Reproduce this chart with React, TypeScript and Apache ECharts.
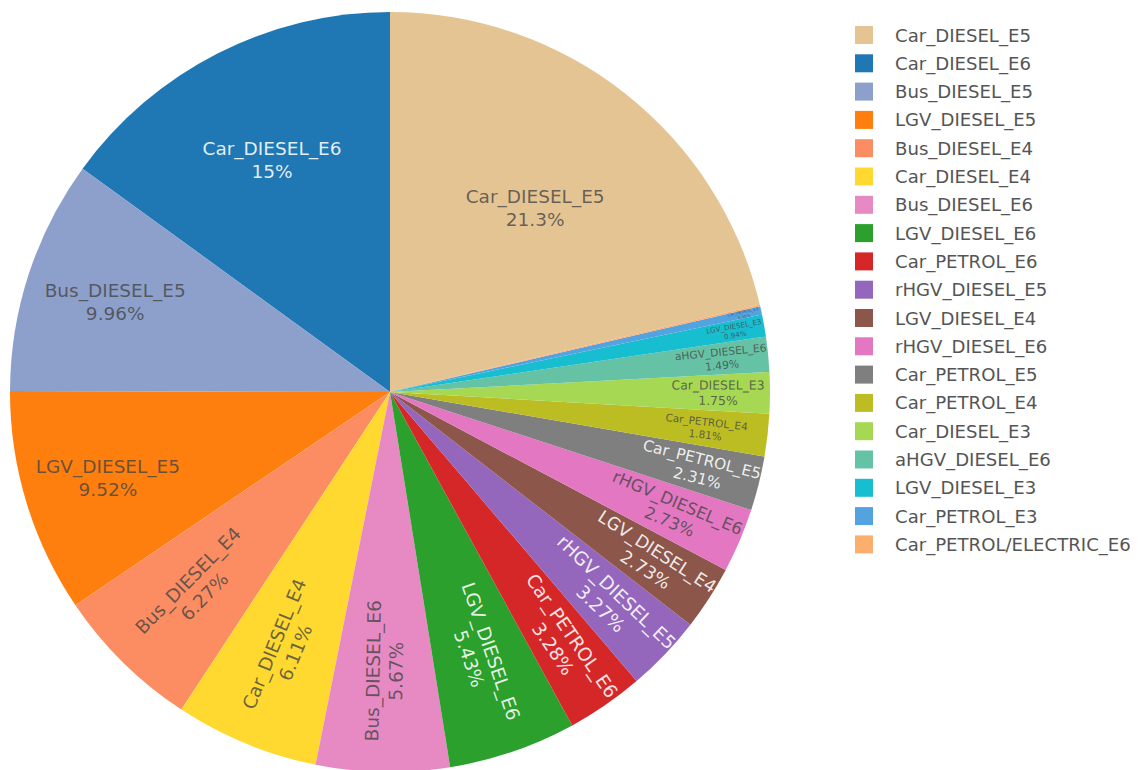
import React, { useEffect, useRef } from "react";
import * as echarts from "echarts";

const categories = [
  "Car_DIESEL_E5",
  "Car_DIESEL_E6",
  "Bus_DIESEL_E5",
  "LGV_DIESEL_E5",
  "Bus_DIESEL_E4",
  "Car_DIESEL_E4",
  "Bus_DIESEL_E6",
  "LGV_DIESEL_E6",
  "Car_PETROL_E6",
  "rHGV_DIESEL_E5",
  "LGV_DIESEL_E4",
  "rHGV_DIESEL_E6",
  "Car_PETROL_E5",
  "Car_PETROL_E4",
  "Car_DIESEL_E3",
  "aHGV_DIESEL_E6",
  "LGV_DIESEL_E3",
  "Car_PETROL_E3",
  "Car_PETROL/ELECTRIC_E6",
];

const shares = [
  21.3, 15, 9.96, 9.52, 6.27, 6.11, 5.67, 5.43, 3.28, 3.27, 2.73, 2.73, 2.31,
  1.81, 1.75, 1.49, 0.94, 0.35, 0.08,
];

const colors = [
  "#e5c494",
  "#1f77b4",
  "#8da0cb",
  "#ff7f0e",
  "#fc8d62",
  "#ffd92f",
  "#e78ac3",
  "#2ca02c",
  "#d62728",
  "#9467bd",
  "#8c564b",
  "#e377c2",
  "#7f7f7f",
  "#bcbd22",
  "#a6d854",
  "#66c2a5",
  "#17becf",
  "#52a3e0",
  "#fcae6e",
];

// label styling (positions along the slice bisector, sizes, contrast)
const labelRadius = [234, 260, 289, 295, 276, 277, 279, 278, 304, 302, 311, 308, 319, 318, 328, 333, 350, 362, 372];
const labelFont = [18.5, 18.5, 18.5, 18.5, 18.5, 18.5, 18.5, 18.5, 18.5, 18.5, 17.5, 16.6, 15.4, 10.5, 12.4, 10.7, 7.2, 4, 0];
const lightText = [false, true, false, false, false, false, false, true, true, true, true, false, true, false, false, false, false, false, false];
const horizontalLabel = [true, true, true, true, false, false, false, false, false, false, false, false, false, false, false, false, false, false, false];

const FONT = "'DejaVu Sans', Verdana, sans-serif";
const CX = 390;
const CY = 392;
const R = 380;

const fmt = (v: number) => String(Number(v.toPrecision(3)));

export default function App() {
  const ref = useRef<HTMLDivElement>(null);

  useEffect(() => {
    if (!ref.current) return;
    const chart = echarts.init(ref.current, null, { renderer: "svg" });
    const total = shares.reduce((a, b) => a + b, 0);
    const startAngle = 90 - (360 * shares[0]) / total;

    const mids: number[] = [];
    let cum = 0;
    shares.forEach((v) => {
      const a0 = startAngle + (360 * cum) / total;
      cum += v;
      const a1 = startAngle + (360 * cum) / total;
      mids.push((a0 + a1) / 2);
    });

    const data = categories.map((name, i) => ({
      name,
      value: shares[i],
      itemStyle: { color: colors[i] },
      label: {
        show: labelFont[i] > 0,
        rotate: horizontalLabel[i] ? 0 : "radial",
        fontSize: labelFont[i] || 1,
        lineHeight: (labelFont[i] || 1) * 1.24,
        color: lightText[i] ? "rgba(255,255,255,0.88)" : "rgba(68,68,68,0.78)",
      },
    }));

    chart.setOption({
      animation: false,
      backgroundColor: "#ffffff",
      legend: {
        orient: "vertical",
        left: 855,
        top: 26,
        padding: 0,
        itemWidth: 18,
        itemHeight: 18,
        itemGap: 10.3,
        icon: "rect",
        selectedMode: false,
        data: categories,
        textStyle: {
          fontFamily: FONT,
          fontSize: 18.1,
          lineHeight: 18,
          color: "#555555",
          padding: [0, 0, 0, 17],
        },
      },
      series: [
        {
          type: "pie",
          center: [CX, CY],
          radius: [0, R],
          startAngle,
          clockwise: false,
          minAngle: 0,
          avoidLabelOverlap: false,
          itemStyle: { borderWidth: 0 },
          label: {
            position: "inside",
            fontFamily: FONT,
            align: "center",
            verticalAlign: "middle",
            formatter: (p: any) => `${p.name}\n${fmt(p.value)}%`,
          },
          labelLine: { show: false },
          emphasis: { disabled: true },
          labelLayout: (params: any) => {
            const i = params.dataIndex;
            const a = (mids[i] * Math.PI) / 180;
            return {
              x: CX + labelRadius[i] * Math.cos(a),
              y: CY - labelRadius[i] * Math.sin(a),
            };
          },
          data,
        },
      ],
    });

    return () => chart.dispose();
  }, []);

  return (
    <div
      ref={ref}
      style={{ position: "fixed", left: 0, top: 0, width: 1138, height: 770, background: "#fff" }}
    />
  );
}
